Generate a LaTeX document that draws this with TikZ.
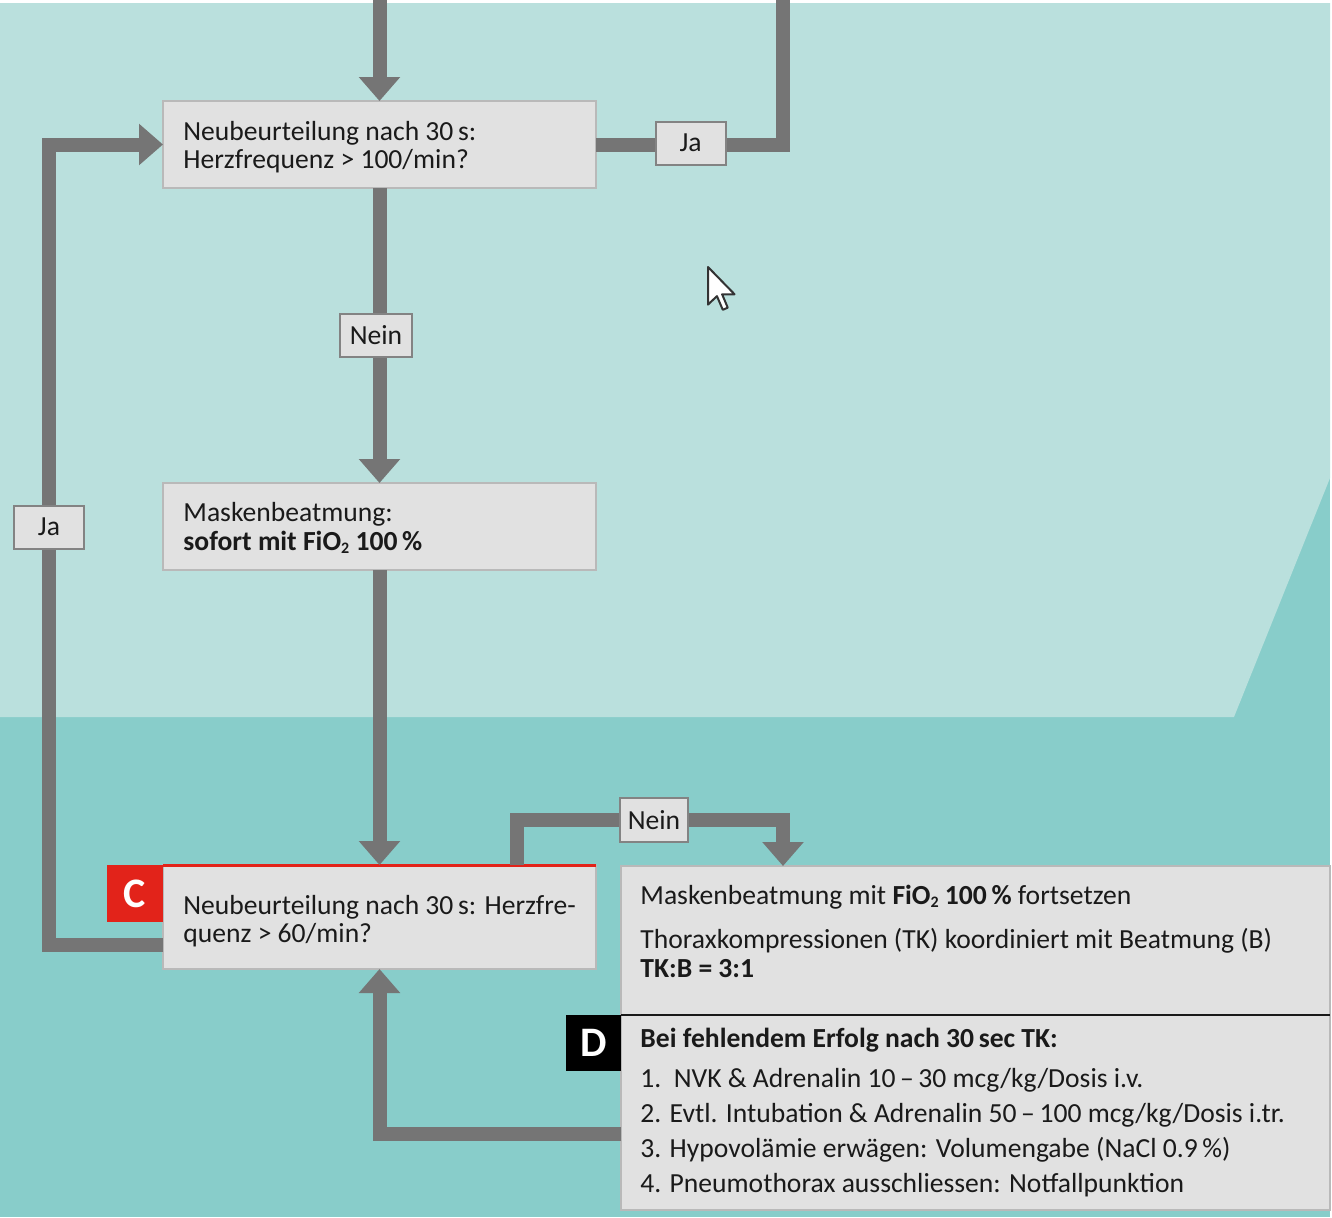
\documentclass[tikz,border=0pt]{standalone}
\usepackage{fontspec}
\setmainfont{Carlito}
\usetikzlibrary{arrows.meta,calc}

\definecolor{tealLight}{HTML}{BAE0DD}
\definecolor{tealDark}{HTML}{88CDCA}
\definecolor{boxFill}{HTML}{E1E1E1}
\definecolor{boxLine}{HTML}{B9B9B9}
\definecolor{flow}{HTML}{757575}
\definecolor{markRed}{HTML}{E2231A}
\definecolor{ink}{HTML}{1A1A1A}

\begin{document}
\begin{tikzpicture}[x=0.5pt,y=-0.5pt,
  every node/.style={font=\fontsize{13.8}{14.3}\selectfont, text=ink},
  panel/.style={draw=boxLine, line width=1pt, fill=boxFill, inner sep=0pt,
    outer sep=0pt, anchor=north west},
  flowline/.style={draw=flow, line width=7pt, line join=miter},
  flowarrow/.style={flowline, -{Triangle[width=20pt,length=12pt]}},
  tag/.style={draw=flow!90, line width=1pt, fill=boxFill, inner sep=0pt,
    minimum width=35pt, minimum height=21.5pt},
  txt/.style={anchor=west, align=left, inner sep=0pt},
  stepmark/.style={anchor=north east, inner sep=0pt, outer sep=0pt, text=white,
    font=\fontsize{21}{21}\selectfont\bfseries},
]
\useasboundingbox (0,0) rectangle (1332,1217);

% background bands
\fill[white] (0,0) rectangle (1332,1217);
\fill[tealDark] (0,3) rectangle (1330,1217);
\fill[tealLight] (0,3) -- (1330,3) -- (1330,478) -- (1234,717) -- (0,717) -- cycle;

% boxes
\node[panel, minimum width=216.5pt, minimum height=43.5pt] (q1) at (163,101) {};
\node[panel, minimum width=216.5pt, minimum height=43.5pt] (mask) at (163,483) {};
\node[panel, minimum width=216.5pt, minimum height=52pt] (q2) at (163,865) {};
\node[panel, minimum width=354.5pt, minimum height=74.5pt] (cpr) at (621,866) {};
\node[panel, minimum width=354.5pt, minimum height=97.5pt] (drug) at (621,1015) {};

% section marks
\draw[markRed, line width=1.5pt] (q2.north west) -- (q2.north east);
\node[stepmark, fill=markRed, minimum width=28pt, minimum height=28.5pt] (cmark) at (q2.north west) {C};
\draw[black!90, line width=1.2pt] (drug.north west) -- (drug.north east);
\node[stepmark, fill=black, minimum width=27.5pt, minimum height=28pt] (dmark) at (drug.north west) {D};

% box texts
\node[txt] (q1t) at (183,147) {Neubeurteilung nach 30\,s:\\Herzfrequenz > 100/min?};
\node[txt] (maskt) at (183,528) {Maskenbeatmung:\\\textbf{sofort mit FiO{\fontsize{8}{8}\selectfont\raisebox{-0.35ex}{2}} 100\,\%}};
\node[txt] (q2t) at (183,921) {Neubeurteilung nach 30\,s: Herzfre-\\quenz > 60/min?};
\node[txt] (cprA) at (640,897) {Maskenbeatmung mit \textbf{FiO{\fontsize{8}{8}\selectfont\raisebox{-0.35ex}{2}} 100\,\%} fortsetzen};
\node[txt] (cprB) at (640,953) {Thoraxkompressionen (TK) koordiniert mit Beatmung (B)\\\textbf{TK:B = 3:1}};
\node[txt, font=\fontsize{13.8}{17.5}\selectfont] (drugt) at (640,1113)
  {\textbf{Bei fehlendem Erfolg nach 30\,sec TK:}\\[2.5pt]
   1.~~NVK \& Adrenalin 10\,–\,30 mcg/kg/Dosis i.v.\\
   2. Evtl. Intubation \& Adrenalin 50\,–\,100 mcg/kg/Dosis i.tr.\\
   3. Hypovolämie erwägen: Volumengabe (NaCl 0.9\,\%)\\
   4. Pneumothorax ausschliessen: Notfallpunktion};

% connectors
\coordinate (topin) at (379.5,0);
\coordinate (yesR) at (783,0);
\coordinate (loopL) at (49,144.5);
\coordinate (noR) at (783,820);

\draw[flowarrow] (topin) -- (q1.north);
\draw[flowline] (q1.east) -| (yesR);
\draw[flowarrow] (q1.south) -- (mask.north);
\draw[flowarrow] (mask.south) -- (q2.north);
\draw[flowarrow] ([yshift=-14pt]q2.west) -| (loopL) -- (q1.west);
\draw[flowarrow] ([xshift=68.75pt]q2.north) |- (noR) -- (noR |- cpr.north);
\draw[flowarrow] ([yshift=-10.75pt]drug.west) -| (q2.south);

% branch labels
\node[tag] (ja1) at (690.5,143) {Ja};
\node[tag, minimum width=36pt] (nein1) at (376,335.5) {Nein};
\node[tag] (ja2) at (49,527) {Ja};
\node[tag, minimum width=34pt, minimum height=22pt] (nein2) at (654,820) {Nein};

% mouse pointer
\begin{scope}[shift={(708,267)}, x=1.175pt, y=-1.175pt]
  \draw[black!80, fill=white, line width=1pt, line join=round]
    (0,0) -- (0,16) -- (3.8,12.4) -- (6.3,18.2) -- (8.4,17.3) -- (6,11.6) -- (11.3,11.6) -- cycle;
\end{scope}
\end{tikzpicture}
\end{document}
